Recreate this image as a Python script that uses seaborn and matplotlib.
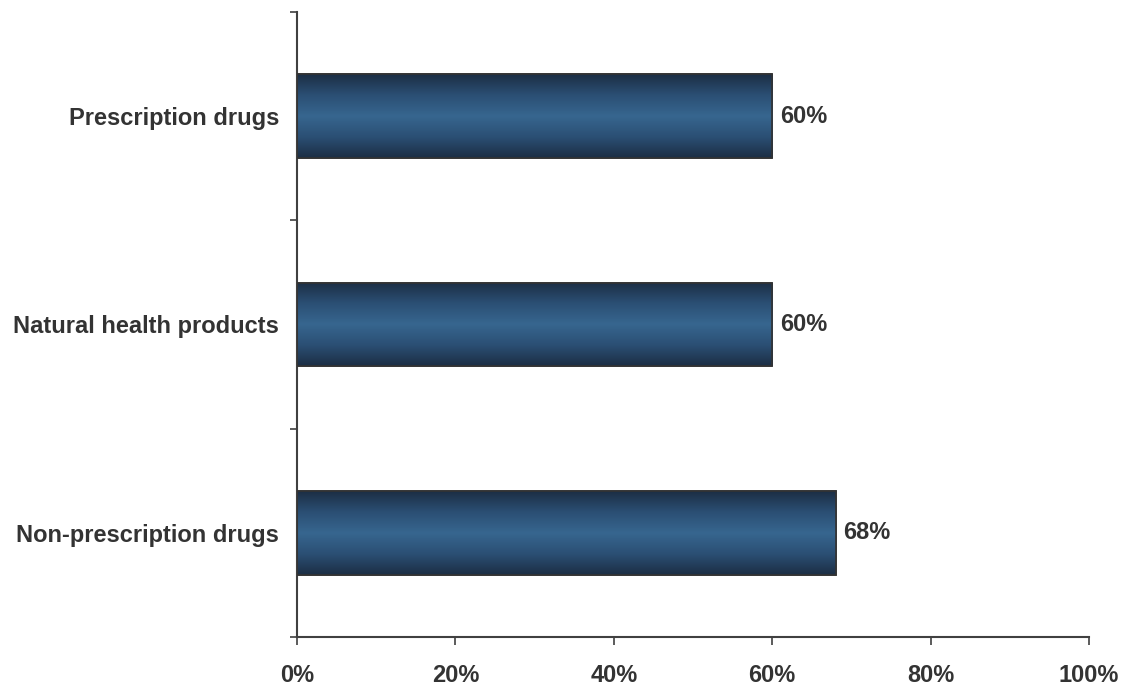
import numpy as np
import pandas as pd
import matplotlib
matplotlib.use("Agg")
import matplotlib.pyplot as plt
from matplotlib.colors import LinearSegmentedColormap
import seaborn as sns

categories = ["Prescription drugs", "Natural health products", "Non-prescription drugs"]
values = [60, 60, 68]
x_ticks = [0, 20, 40, 60, 80, 100]
x_tick_labels = ["0%", "20%", "40%", "60%", "80%", "100%"]

sns.set_style("white")
plt.rcParams["font.family"] = ["Liberation Sans", "DejaVu Sans"]
plt.rcParams["font.weight"] = "bold"

text_color = "#333333"
axis_color = "#404040"
font_size = 17

df = pd.DataFrame({"category": categories, "value": values})

fig = plt.figure(figsize=(11.36, 6.88), dpi=100)
ax = fig.add_axes([0.2614, 0.0741, 0.6972, 0.9085])

sns.barplot(data=df, x="value", y="category", orient="h", width=0.4,
            color="#2f5a82", edgecolor="#333333", linewidth=1.2, ax=ax,
            zorder=2)

# vertical shading across each bar: dark edges, lighter centre
shade = LinearSegmentedColormap.from_list(
    "bar_shade", ["#1c2e44", "#2b4f74", "#37668f", "#2b4f74", "#1c2e44"])
grad = np.linspace(0, 1, 256).reshape(-1, 1)
for patch in list(ax.patches):
    x0, y0 = patch.get_x(), patch.get_y()
    w, h = patch.get_width(), patch.get_height()
    im = ax.imshow(grad, cmap=shade, aspect="auto", interpolation="bicubic",
                   extent=[x0, x0 + w, y0 + h, y0], zorder=2.5)
    im.set_clip_path(patch)
    edge = plt.Rectangle((x0, y0), w, h, fill=False, edgecolor="#333333",
                         linewidth=1.2, zorder=3)
    ax.add_patch(edge)
    ax.text(x0 + w + 1.0, y0 + h / 2, f"{w:.0f}%", va="center", ha="left",
            fontsize=font_size, fontweight="bold", color=text_color)

ax.set_xlim(0, 100)
ax.set_ylim(2.5, -0.5)
ax.set_xticks(x_ticks)
ax.set_xticklabels(x_tick_labels)
ax.set_yticks([0, 1, 2])
ax.set_yticklabels(categories)
ax.set_yticks([-0.5, 0.5, 1.5, 2.5], minor=True)
ax.set_xlabel("")
ax.set_ylabel("")

for side in ["top", "right"]:
    ax.spines[side].set_visible(False)
for side in ["left", "bottom"]:
    ax.spines[side].set_color(axis_color)
    ax.spines[side].set_linewidth(1.5)

ax.tick_params(axis="y", which="major", left=False, length=0, pad=13,
               labelsize=font_size, labelcolor=text_color)
ax.tick_params(axis="y", which="minor", left=True, length=5, width=1.2,
               color=axis_color, direction="out")
ax.tick_params(axis="x", which="major", bottom=True, length=6, width=1.2,
               color=axis_color, direction="out", pad=13.5,
               labelsize=font_size, labelcolor=text_color)
for lab in ax.get_xticklabels() + ax.get_yticklabels():
    lab.set_fontweight("bold")

fig.savefig("out.png", dpi=100, facecolor="white")
